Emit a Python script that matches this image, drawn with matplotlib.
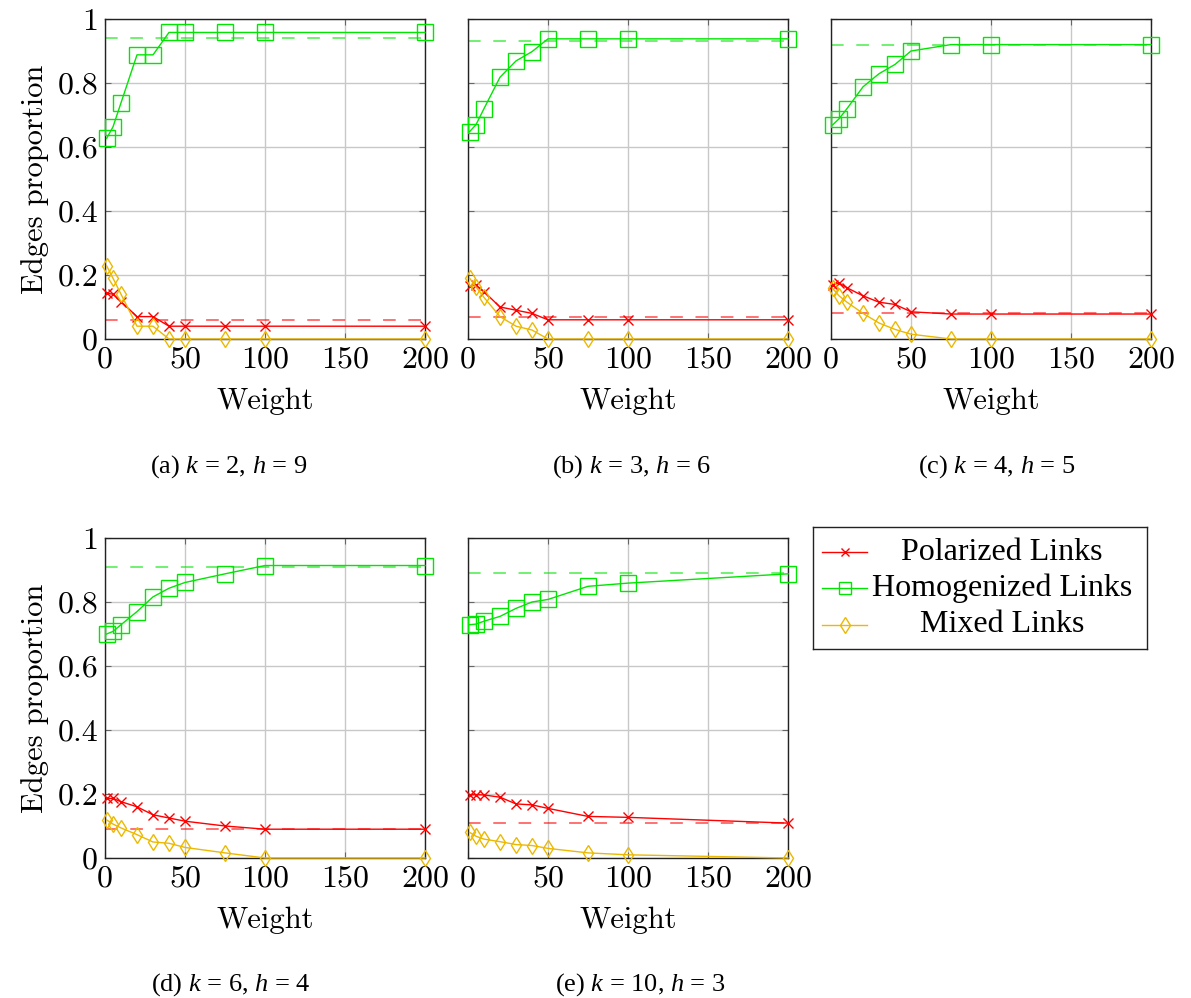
import numpy as np
import matplotlib
matplotlib.use("Agg")
import matplotlib.pyplot as plt
from matplotlib.lines import Line2D

plt.rcParams['mathtext.fontset'] = 'custom'
plt.rcParams['mathtext.rm'] = 'Liberation Serif'
plt.rcParams['mathtext.it'] = 'Liberation Serif:italic'

# datos
weights = [1, 5, 10, 20, 30, 40, 50, 75, 100, 200]

pol_a = [0.143, 0.14, 0.117, 0.07, 0.07, 0.04, 0.04, 0.04, 0.04, 0.04]
hom_a = [0.627, 0.663, 0.738, 0.888, 0.888, 0.958, 0.958, 0.958, 0.958, 0.958]
mix_a = [0.229, 0.19, 0.14, 0.04, 0.04, 0.0, 0.0, 0.0, 0.0, 0.0]

pol_b = [0.166, 0.168, 0.148, 0.10, 0.09, 0.08, 0.06, 0.06, 0.06, 0.06]
hom_b = [0.648, 0.67, 0.72, 0.818, 0.869, 0.898, 0.938, 0.938, 0.938, 0.938]
mix_b = [0.19, 0.163, 0.13, 0.07, 0.04, 0.028, 0.0, 0.0, 0.0, 0.0]

pol_c = [0.17, 0.175, 0.16, 0.135, 0.115, 0.108, 0.085, 0.078, 0.078, 0.078]
hom_c = [0.669, 0.688, 0.72, 0.788, 0.829, 0.858, 0.90, 0.92, 0.92, 0.92]
mix_c = [0.158, 0.135, 0.115, 0.08, 0.05, 0.03, 0.015, 0.0, 0.0, 0.0]

pol_d = [0.186, 0.186, 0.176, 0.16, 0.135, 0.125, 0.115, 0.10, 0.09, 0.09]
hom_d = [0.70, 0.708, 0.729, 0.77, 0.816, 0.843, 0.861, 0.888, 0.914, 0.914]
mix_d = [0.119, 0.106, 0.094, 0.073, 0.05, 0.046, 0.033, 0.016, 0.0, 0.0]

pol_e = [0.197, 0.198, 0.197, 0.19, 0.169, 0.166, 0.155, 0.13, 0.127, 0.109]
hom_e = [0.729, 0.731, 0.74, 0.755, 0.78, 0.80, 0.808, 0.849, 0.859, 0.888]
mix_e = [0.08, 0.068, 0.059, 0.051, 0.042, 0.039, 0.03, 0.016, 0.01, 0.0]

# referencias (lineas discontinuas)
pol_ref = [0.06, 0.07, 0.08, 0.09, 0.11]
hom_ref = [0.94, 0.93, 0.92, 0.91, 0.89]

captions = [r"(a) $k$ = 2, $h$ = 9", r"(b) $k$ = 3, $h$ = 6", r"(c) $k$ = 4, $h$ = 5",
            r"(d) $k$ = 6, $h$ = 4", r"(e) $k$ = 10, $h$ = 3"]
labels = ["Polarized Links", "Homogenized Links", "Mixed Links"]

pol = [pol_a, pol_b, pol_c, pol_d, pol_e]
hom = [hom_a, hom_b, hom_c, hom_d, hom_e]
mix = [mix_a, mix_b, mix_c, mix_d, mix_e]

rojo = '#ff0000'
verde = '#00e600'
amarillo = '#ecb900'

W, H = 1191, 998
fig = plt.figure(figsize=(W/100, H/100), dpi=100)

# posiciones en pixeles (izq, arriba)
pos = [(105, 19), (468, 19), (831, 19), (105, 538), (468, 538)]
cap_pos = [(229, 467), (632, 467), (997, 467), (231, 985), (640, 985)]
lado = 320

for i in range(5):
    x0, y0 = pos[i]
    ax = fig.add_axes([x0/W, 1-(y0+lado)/H, lado/W, lado/H])
    ax.plot([0, 200], [hom_ref[i], hom_ref[i]], color=verde, alpha=0.6, lw=1.3, dashes=(7, 7))
    ax.plot([0, 200], [pol_ref[i], pol_ref[i]], color=rojo, alpha=0.6, lw=1.3, dashes=(7, 7))
    ax.plot(weights, pol[i], color=rojo, lw=1.0, marker='x', ms=7, mew=1.0, clip_on=False, zorder=4)
    ax.plot(weights, hom[i], color=verde, lw=1.0, marker='s', ms=11, mfc='none', mew=1.0, clip_on=False, zorder=4)
    ax.plot(weights, mix[i], color=amarillo, lw=1.0, marker='d', ms=8.5, mfc='none', mew=1.0, clip_on=False, zorder=4)
    ax.set_xlim(0, 200)
    ax.set_ylim(0, 1)
    ax.set_xticks([0, 50, 100, 150, 200])
    ax.set_yticks([0, 0.2, 0.4, 0.6, 0.8, 1])
    ax.set_xticklabels(["0", "50", "100", "150", "200"], family='cmr10', fontsize=23)
    if i in (0, 3):
        ax.set_yticklabels(["0", "0.2", "0.4", "0.6", "0.8", "1"], family='cmr10', fontsize=23)
        ax.set_ylabel("Edges proportion", family='cmr10', fontsize=22, labelpad=6)
    else:
        ax.set_yticklabels([])
    ax.set_xlabel("Weight", family='cmr10', fontsize=22, labelpad=10)
    ax.grid(True, color='#c8c8c8', lw=1.0)
    ax.set_axisbelow(True)
    ax.tick_params(direction='in', top=True, right=True, length=4, color='#666666', pad=5)
    for s in ax.spines.values():
        s.set_linewidth(1.0)
        s.set_color('#222222')
    cx, cy = cap_pos[i]
    fig.text(cx/W, 1-cy/H, captions[i], ha='center', va='center', family='Liberation Serif', fontsize=19)

# leyenda
lx0, ly0, lx1, ly1 = 813, 527, 1147, 649
lax = fig.add_axes([lx0/W, 1-ly1/H, (lx1-lx0)/W, (ly1-ly0)/H])
lax.set_xlim(lx0, lx1)
lax.set_ylim(ly1, ly0)
lax.set_xticks([])
lax.set_yticks([])
for s in lax.spines.values():
    s.set_linewidth(1.0)
    s.set_color('#222222')
estilos = [(rojo, 'x', 7), (verde, 's', 11), (amarillo, 'd', 10)]
filas = [552, 588, 625]
for (c, m, ms), yy, lab in zip(estilos, filas, labels):
    lax.add_line(Line2D([822, 867], [yy, yy], color=c, lw=1.0))
    lax.add_line(Line2D([844.5], [yy], color=c, marker=m, ms=ms*0.8, mfc='none', mew=1.0))
    lax.text(1002, yy, lab, ha='center', va='center', family='Liberation Serif', fontsize=23)

fig.savefig("out.png", dpi=100)
